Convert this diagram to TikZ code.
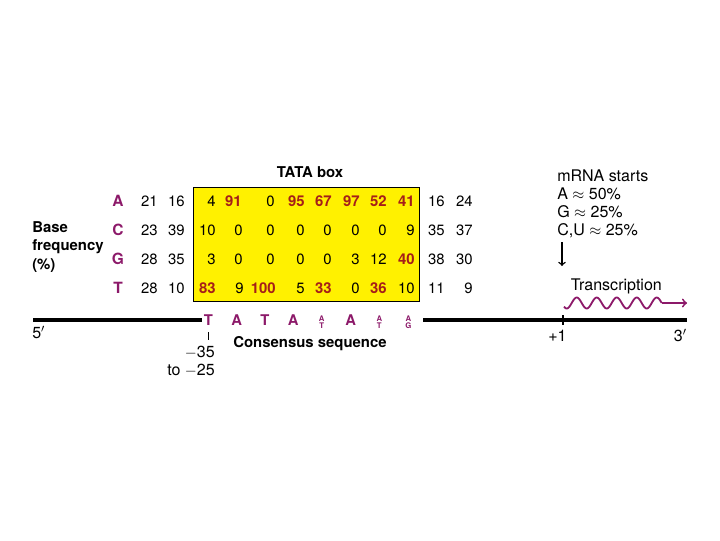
\documentclass[tikz,border=0pt]{standalone}
\usepackage{fontspec}
\setmainfont{TeX Gyre Heros}
\usetikzlibrary{arrows}
\definecolor{boxyellow}{RGB}{255,241,0}
\definecolor{basepurple}{RGB}{140,25,105}
\definecolor{hitred}{RGB}{165,30,25}

\tikzset{
  num/.style={anchor=base east,inner sep=0pt,font=\fontsize{10.6}{12}\selectfont},
  hit/.style={num,text=hitred,font=\fontsize{10.6}{12}\selectfont\bfseries},
  rowletter/.style={anchor=base,inner sep=0pt,text=basepurple,font=\fontsize{11}{12}\selectfont\bfseries},
  cons/.style={inner sep=0pt,text=basepurple,font=\fontsize{10.5}{12}\selectfont\bfseries},
  conssmall/.style={inner sep=0pt,text=basepurple,font=\fontsize{5.5}{6}\selectfont\bfseries},
  lbl/.style={inner sep=0pt,font=\fontsize{11.4}{13}\selectfont},
  boldlbl/.style={inner sep=0pt,font=\fontsize{10.6}{12}\selectfont\bfseries},
  dna/.style={line width=2.6pt},
}

\begin{document}
\begin{tikzpicture}[x=0.025cm,y=-0.025cm]
\useasboundingbox (0,0) rectangle (720,540);
% yellow TATA box
\draw[fill=boxyellow,line width=0.6pt] (193.5,187.5) rectangle (419.5,301);
\node[boldlbl] (tatabox) at (310,172) {TATA box};
% base frequency table
\node[boldlbl,anchor=base west] (base) at (32,232) {Base};
\node[boldlbl,anchor=base west] (freq) at (32,250.5) {frequency};
\node[boldlbl,anchor=base west] (pct) at (32,269) {(\%)};
\node[rowletter] (rowA) at (118,206) {A};
\node[rowletter] (rowC) at (118,235) {C};
\node[rowletter] (rowG) at (118,264) {G};
\node[rowletter] (rowT) at (118,293) {T};
\foreach \x/\v/\s [count=\i] in {158/21/num,185/16/num,216/4/num,242/91/hit,275/0/num,305/95/hit,332/67/hit,360/97/hit,387/52/hit,415/41/hit,445/16/num,473/24/num}
  \node[\s] (A\i) at (\x,206) {\v};
\foreach \x/\v/\s [count=\i] in {158/23/num,185/39/num,216/10/num,243/0/num,275/0/num,305/0/num,332/0/num,360/0/num,387/0/num,415/9/num,445/35/num,473/37/num}
  \node[\s] (C\i) at (\x,235) {\v};
\foreach \x/\v/\s [count=\i] in {158/28/num,185/35/num,216/3/num,243/0/num,275/0/num,305/0/num,332/0/num,360/3/num,387/12/num,415/40/hit,445/38/num,473/30/num}
  \node[\s] (G\i) at (\x,264) {\v};
\foreach \x/\v/\s [count=\i] in {158/28/num,185/10/num,216/83/hit,244/9/num,276/100/hit,305/5/num,332/33/hit,360/0/num,387/36/hit,415/10/num,445/11/num,473/9/num}
  \node[\s] (T\i) at (\x,293) {\v};
% consensus sequence
\foreach \x/\b [count=\i] in {208.3/T,236.7/A,265/T,293.3/A,350.7/A}
  \node[cons] (cons\i) at (\x,319.7) {\b};
\foreach \x/\t/\u [count=\i] in {321.7/A/T,379.3/A/T,408.3/A/G}{
  \node[conssmall] (up\i) at (\x,318.7) {\t};
  \node[conssmall] (lo\i) at (\x,325.3) {\u};
}
\node[boldlbl] (consensus) at (310,344) {Consensus sequence};
% DNA
\coordinate (fiveend) at (33,320);
\coordinate (boxleft) at (202,320);
\coordinate (boxright) at (423,320);
\coordinate (threeend) at (687,320);
\draw[dna] (fiveend) -- (boxleft);
\draw[dna] (boxright) -- (threeend);
\node[lbl,anchor=base west] (five) at (32,338) {5$'$};
\node[lbl,anchor=base east] (three) at (687,341) {3$'$};
% position of TATA box
\coordinate (ttop) at (208,332);
\coordinate (tbot) at (208,340);
\draw[line width=0.5pt] (ttop) -- (tbot);
\node[lbl,anchor=base east] (m35) at (215,357.7) {$-$35};
\node[lbl,anchor=base east] (m25) at (215,375.7) {to $-$25};
% start site
\coordinate (stop) at (563,315);
\coordinate (sbot) at (563,325);
\draw[line width=0.8pt] (stop) -- (sbot);
\node[lbl,anchor=base] (plusone) at (557.5,341.7) {+1};
\node[lbl,anchor=base west] (mrna) at (557,181.7) {mRNA starts};
\node[lbl,anchor=base west] (pa) at (557,199) {A $\approx$ 50\%};
\node[lbl,anchor=base west] (pg) at (557,217.7) {G $\approx$ 25\%};
\node[lbl,anchor=base west] (pc) at (557,235.7) {C,U $\approx$ 25\%};
\coordinate (arrtop) at (562,242);
\coordinate (arrbot) at (562,266);
\draw[->,line width=1pt] (arrtop) -- (arrbot);
% transcription
\node[lbl,anchor=west] (transcr) at (570.5,286.7) {Transcription};
\coordinate (waveend) at (661.7,303);
\coordinate (wavetip) at (687,303);
\draw[basepurple,line width=1.3pt] plot[domain=564:661.7,samples=120,smooth] (\x,{303-5.5*sin(18*(\x-571.7))});
\draw[basepurple,line width=1.3pt,->] (waveend) -- (wavetip);
\end{tikzpicture}
\end{document}
